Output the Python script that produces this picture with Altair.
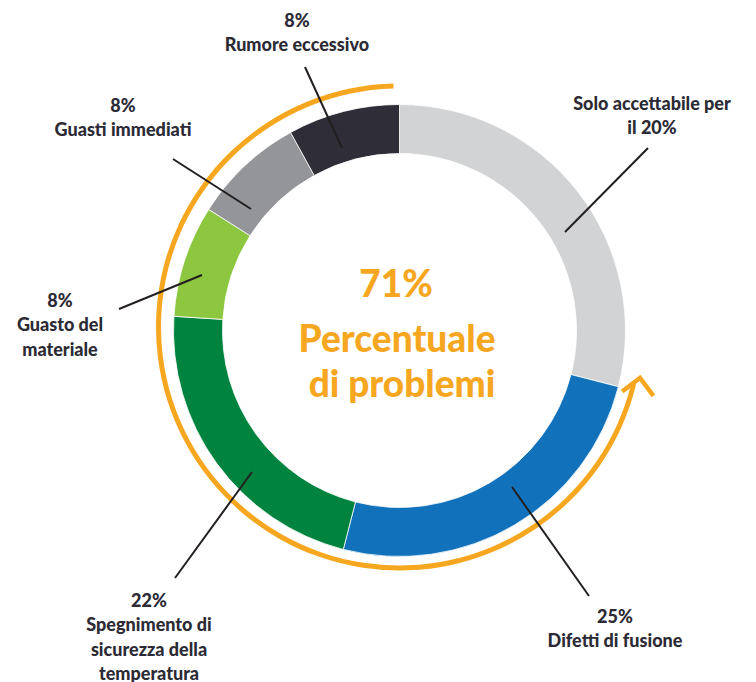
import math
import altair as alt
import pandas as pd

# ---- data ----
labels = ["Solo accettabile per il 20%", "Difetti di fusione",
          "Spegnimento di sicurezza della temperatura", "Guasto del materiale",
          "Guasti immediati", "Rumore eccessivo"]
values = [29, 25, 22, 8, 8, 8]
pct_text = ["", "25%", "22%", "8%", "8%", "8%"]
label_lines = [["Solo accettabile per", "il 20%"],
               ["Difetti di fusione"],
               ["Spegnimento di", "sicurezza della", "temperatura"],
               ["Guasto del", "materiale"],
               ["Guasti immediati"],
               ["Rumore eccessivo"]]
colors = ["#d1d3d4", "#1172bb", "#00833e", "#8dc63f", "#939598", "#2e2d38"]
problem_share = "71%"
center_lines = [problem_share, "Percentuale", "di problemi"]

# ---- layout (pixels) ----
W, H = 756, 682
CX, CY = 399.5, 330.5
R_OUT, R_IN = 226, 177
ORANGE = "#f6a71f"
INK = "#2b2a35"
FONT = "Lato"
LINE_H = 24.3
# leader lines: inner end, outer end; label block centre x and first baseline
leader = [((565, 232), (648, 148)),
          ((512, 487), (589, 596)),
          ((252, 472), (175, 578)),
          ((202, 275), (119, 309)),
          ((251, 209), (173, 159)),
          ((342, 148), (305, 67))]
label_anchor = [(652, 110), (615, 623), (149, 607), (60, 307), (123, 112), (297, 27)]

# ---- tables ----
starts, s = [], 0
for v in values:
    starts.append(s)
    s += v
ring = pd.DataFrame({"label": labels, "value": values, "start": starts,
                     "end": [a + b for a, b in zip(starts, values)]})

orange = pd.DataFrame({"start": [28.8], "end": [99.6]})

lines_df = pd.DataFrame({
    "x": [p[0][0] for p in leader], "y": [p[0][1] for p in leader],
    "x2": [p[1][0] for p in leader], "y2": [p[1][1] for p in leader]})

rows = []
for i, lab in enumerate(labels):
    tl = ([pct_text[i]] if pct_text[i] else []) + label_lines[i]
    ax, ay = label_anchor[i]
    for k, t in enumerate(tl):
        rows.append({"x": ax, "y": ay + k * LINE_H, "t": t})
text_df = pd.DataFrame(rows)

center_df = pd.DataFrame({"x": [396, 397, 402], "y": [297, 352, 397], "t": center_lines})
arrow_df = pd.DataFrame({"x": [640], "y": [378]})

xs = alt.Scale(domain=[0, W], range=[0, W])
ys = alt.Scale(domain=[0, H], range=[0, H])
ts = alt.Scale(domain=[0, 100], range=[0, 2 * math.pi])

ring_layer = alt.Chart(ring).mark_arc(radius=R_OUT, radius2=R_IN, stroke="white",
                                      strokeWidth=0.8).encode(
    theta=alt.Theta("start:Q", scale=ts),
    theta2="end:Q",
    color=alt.Color("label:N", scale=alt.Scale(domain=labels, range=colors), legend=None),
    x=alt.value(CX), y=alt.value(CY))

orange_layer = alt.Chart(orange).mark_arc(radius=243.5, radius2=238.5, color=ORANGE).encode(
    theta=alt.Theta("start:Q", scale=ts), theta2="end:Q",
    x=alt.value(CX), y=alt.value(327))

arrow_layer = alt.Chart(arrow_df).mark_point(
    shape="M -1 1 L 0 0 L 1 1", size=1000, filled=False, stroke=ORANGE,
    strokeWidth=4.5, angle=8, opacity=1).encode(
    x=alt.X("x:Q", scale=xs, axis=None), y=alt.Y("y:Q", scale=ys, axis=None))

line_layer = alt.Chart(lines_df).mark_rule(color="#231f20", strokeWidth=2).encode(
    x=alt.X("x:Q", scale=xs, axis=None), y=alt.Y("y:Q", scale=ys, axis=None),
    x2="x2:Q", y2="y2:Q")

text_layer = alt.Chart(text_df).mark_text(font=FONT, fontWeight=900, fontSize=18,
                                          color=INK, align="center",
                                          baseline="alphabetic").encode(
    x=alt.X("x:Q", scale=xs, axis=None), y=alt.Y("y:Q", scale=ys, axis=None), text="t:N")

center_layer = alt.Chart(center_df).mark_text(font=FONT, fontWeight=900, fontSize=37,
                                              color=ORANGE, align="center",
                                              baseline="alphabetic").encode(
    x=alt.X("x:Q", scale=xs, axis=None), y=alt.Y("y:Q", scale=ys, axis=None), text="t:N")

chart = alt.layer(ring_layer, orange_layer, arrow_layer, line_layer, text_layer,
                  center_layer).properties(
    width=W, height=H, autosize=alt.AutoSizeParams(type="none"),
    padding=0, background="white").configure_view(stroke=None)

chart.save("out.html", embed_options={"renderer": "svg", "actions": False})
